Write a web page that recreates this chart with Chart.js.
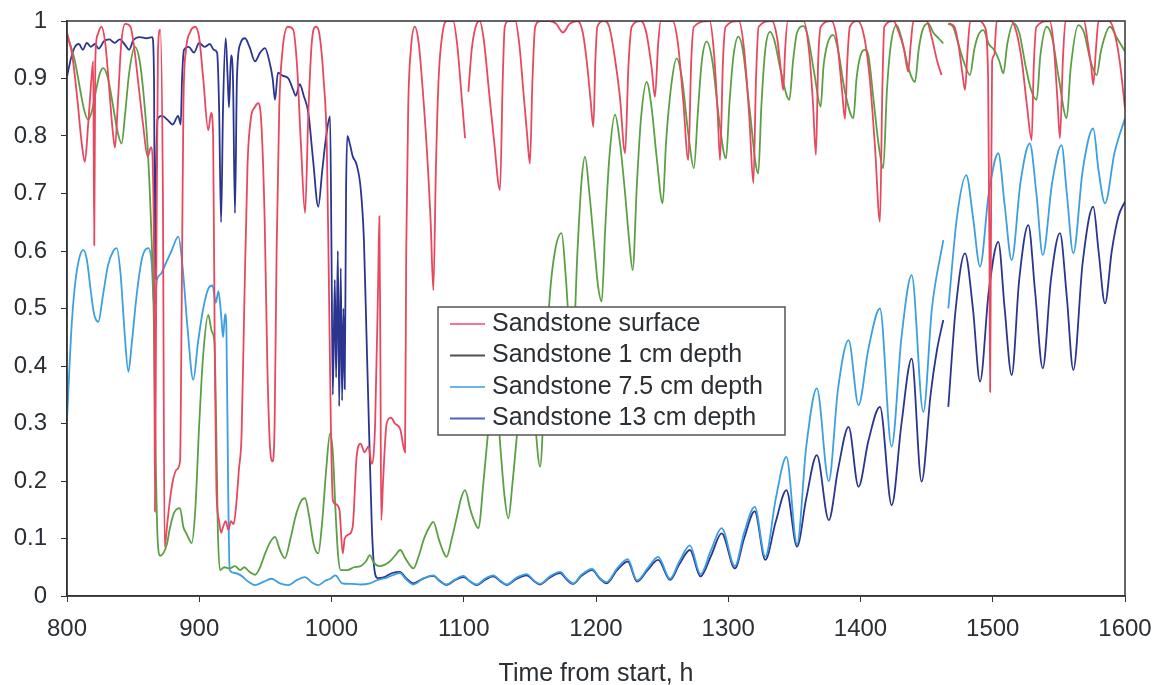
<!DOCTYPE html>
<html>
<head>
<meta charset="utf-8">
<title>Sandstone moisture</title>
<script src="https://cdn.jsdelivr.net/npm/chart.js@4/dist/chart.umd.min.js"></script>
<style>
  body { margin: 0; background: #fff; }
  #wrap { position: relative; width: 1163px; height: 685px; }
</style>
</head>
<body>
<div id="wrap"><canvas id="chart"></canvas></div>
<script>
// axis ticks
const xTicks = [800, 900, 1000, 1100, 1200, 1300, 1400, 1500, 1600];
const xTickLabels = ['800', '900', '1000', '1100', '1200', '1300', '1400', '1500', '1600'];
const yTicks = [0, 0.1, 0.2, 0.3, 0.4, 0.5, 0.6, 0.7, 0.8, 0.9, 1];
const yTickLabels = ['0', '0.1', '0.2', '0.3', '0.4', '0.5', '0.6', '0.7', '0.8', '0.9', '1'];

const seriesNames = ['Sandstone surface', 'Sandstone 1 cm depth', 'Sandstone 7.5 cm depth', 'Sandstone 13 cm depth'];

// [time h, value]; null = break in record
const surface = [
  [800,0.98],[804,0.94],[808,0.86],[811,0.79],[813.5,0.755],[816,0.82],[818.5,0.9],[819.8,0.93],[820.6,0.61],[821.4,0.93],
  [823,0.975],[826,0.99],[829,0.96],[832,0.88],[834.5,0.81],[836.3,0.78],[838.5,0.86],[841,0.96],[844,0.995],[848,0.99],
  [851,0.95],[854,0.89],[857.5,0.82],[861,0.764],[863.5,0.78],[865.8,0.6],[866.5,0.147],[867.5,0.55],[868.8,0.95],[870.5,0.985],
  [872.5,0.7],[873.8,0.086],[876,0.13],[878,0.17],[880,0.2],[883,0.22],[885.5,0.235],[886.7,0.5],[888,0.85],[890,0.95],
  [893,0.98],[897,0.99],[900,0.97],[903,0.9],[906.8,0.81],[909,0.84],[910.5,0.8],[911.8,0.4],[913,0.184],[915,0.13],
  [916.5,0.11],[918,0.12],[920,0.13],[922,0.115],[924,0.13],[926,0.125],[928,0.16],[930,0.22],[932,0.28],[934,0.5],
  [936.5,0.75],[939,0.83],[942,0.85],[944.5,0.857],[947,0.82],[949.5,0.65],[951.5,0.4],[953.5,0.26],[955.5,0.234],[957,0.3],
  [958.5,0.6],[960.5,0.85],[963,0.95],[967,0.99],[971,0.985],[974,0.92],[977,0.78],[980,0.666],[982.5,0.84],[985,0.96],
  [988,0.99],[991,0.975],[994,0.9],[996.5,0.78],[998,0.55],[999.5,0.3],[1001,0.167],[1003,0.16],[1006,0.15],[1008.5,0.074],
  [1010,0.1],[1013,0.107],[1016,0.12],[1019,0.242],[1022,0.265],[1025,0.25],[1028,0.26],[1030.4,0.23],[1033,0.3],[1035.3,0.55],
  [1036.2,0.66],[1037,0.4],[1037.6,0.132],[1039,0.2],[1041.7,0.3],[1045,0.31],[1048,0.3],[1052,0.29],[1055.6,0.25],[1056.5,0.6],
  [1058,0.85],[1060,0.95],[1063,0.99],[1066,0.96],[1069,0.88],[1072,0.78],[1075,0.65],[1077,0.532],[1079,0.75],[1081,0.9],
  [1084,0.98],[1087,1],[1092,1],[1095,0.96],[1098,0.88],[1101,0.796],[1102,null],[1103.5,0.877],[1106,0.95],[1109,0.99],
  [1112,1],[1115,0.97],[1119,0.88],[1123,0.79],[1127.4,0.706],[1129.5,0.9],[1131,0.99],[1134,1],[1139,1],[1142,0.96],
  [1145,0.88],[1148,0.8],[1150,0.752],[1152,0.9],[1154,0.99],[1158,1],[1165,1],[1170,0.995],[1175,0.98],[1180,0.995],
  [1186,1],[1190,0.98],[1193,0.93],[1196,0.86],[1198,0.816],[1199.5,0.93],[1201,0.99],[1206,1],[1210,0.99],[1214,0.94],
  [1218,0.87],[1222,0.77],[1224.5,0.92],[1227,0.99],[1234,1],[1238,0.98],[1242,0.92],[1244.6,0.868],[1247,0.96],[1249,1],
  [1258,1],[1262,0.96],[1266,0.86],[1269.8,0.758],[1272,0.93],[1274,0.99],[1286,1],[1289,0.95],[1292,0.84],[1293.8,0.758],
  [1296,0.93],[1298,0.99],[1308,1],[1312,0.95],[1316,0.83],[1319,0.718],[1321,0.9],[1323,0.99],[1333,1],[1337,0.97],
  [1340,0.91],[1341.6,0.88],[1343,0.95],[1345,1],[1357,1],[1361,0.95],[1364,0.86],[1366.3,0.767],[1368,0.93],[1370,0.99],
  [1378,1],[1382,0.97],[1386,0.88],[1388.3,0.83],[1390,0.93],[1392,0.99],[1398,1],[1403,0.97],[1407,0.9],[1411,0.78],
  [1414.7,0.651],[1416.5,0.88],[1418,0.99],[1425,1],[1429,0.98],[1433,0.95],[1436,0.912],[1438,0.96],[1440,1],[1450,1],
  [1454,0.97],[1458,0.93],[1461.3,0.906],[1464,null],[1466.4,0.996],[1471,0.99],[1474,0.96],[1477,0.91],[1479,0.88],[1481,0.95],
  [1483,1],[1490,1],[1494,0.99],[1496.5,0.9],[1497.5,0.6],[1498,0.355],[1498.6,0.6],[1499.5,0.93],[1501,0.94],[1503,1],
  [1514,1],[1518,0.98],[1522,0.93],[1526,0.85],[1529.4,0.793],[1531,0.92],[1533,0.99],[1543,1],[1546,0.96],[1549,0.86],
  [1550.8,0.796],[1553,0.93],[1555,1],[1569,1],[1572,0.96],[1574.5,0.92],[1576,0.889],[1578,0.95],[1580,1],[1588,1],
  [1592,0.98],[1596,0.93],[1600,0.848]
];

const depth1 = [
  [800,0.973],[803,0.955],[806,0.93],[810,0.88],[813,0.845],[816,0.828],[819,0.845],[822,0.88],[825,0.91],[827.5,0.918],
  [831,0.9],[835,0.85],[838,0.81],[841.3,0.787],[844,0.84],[847,0.91],[851.4,0.955],[855,0.93],[858,0.87],[861,0.78],
  [863.5,0.65],[865.5,0.5],[867,0.25],[868.5,0.1],[870.5,0.07],[873,0.075],[875.5,0.09],[878,0.12],[881,0.145],[885.4,0.153],
  [888,0.12],[890,0.11],[892,0.1],[894.3,0.092],[897,0.15],[900,0.3],[903,0.42],[906.8,0.489],[909.5,0.46],[911.5,0.44],
  [912.8,0.3],[914,0.12],[915.7,0.045],[919,0.05],[923,0.048],[927,0.052],[931,0.045],[934,0.05],[938,0.042],[942.2,0.037],
  [946,0.05],[950,0.075],[954,0.095],[957.3,0.103],[961,0.08],[964.8,0.066],[969,0.1],[973,0.14],[977,0.165],[980,0.17],
  [983,0.14],[986.5,0.09],[990,0.074],[993,0.13],[996,0.22],[998.9,0.283],[1001,0.25],[1003,0.15],[1005,0.07],[1007,0.045],
  [1012,0.045],[1017,0.05],[1022,0.052],[1026,0.06],[1029,0.071],[1032,0.058],[1036,0.052],[1040,0.054],[1044,0.06],[1048,0.07],
  [1052,0.08],[1056,0.065],[1062,0.048],[1066,0.07],[1070,0.1],[1074,0.12],[1077,0.129],[1081,0.1],[1084,0.08],[1087,0.068],
  [1091,0.1],[1095,0.14],[1098,0.17],[1101,0.184],[1105,0.15],[1108,0.13],[1111,0.118],[1115,0.2],[1119,0.3],[1122,0.36],
  [1125,0.34],[1128,0.25],[1131,0.17],[1133.7,0.135],[1137,0.2],[1141,0.3],[1145,0.4],[1148,0.43],[1151,0.38],[1154,0.3],
  [1157.7,0.225],[1161,0.35],[1165,0.52],[1169,0.6],[1174,0.631],[1177,0.56],[1180,0.46],[1182.5,0.43],[1186,0.6],[1189,0.72],
  [1191.7,0.764],[1195,0.7],[1199,0.6],[1201.5,0.54],[1204.3,0.512],[1207,0.64],[1210,0.76],[1214.4,0.837],[1218,0.79],[1222,0.7],
  [1225,0.62],[1227.7,0.567],[1231,0.72],[1234,0.83],[1238.3,0.894],[1242,0.85],[1246,0.76],[1250.4,0.683],[1253,0.79],[1257,0.89],
  [1261,0.935],[1265,0.9],[1270,0.8],[1274,0.744],[1277,0.84],[1280,0.93],[1283.7,0.964],[1288,0.93],[1293,0.83],[1298.3,0.761],
  [1301,0.86],[1304,0.94],[1307.6,0.973],[1311,0.95],[1316,0.85],[1322.7,0.735],[1325,0.85],[1328,0.95],[1331.6,0.981],[1335,0.965],
  [1340,0.91],[1346.2,0.863],[1349,0.93],[1352,0.98],[1356.8,0.991],[1360,0.975],[1365,0.91],[1369.9,0.851],[1372,0.92],[1375,0.96],
  [1379.4,0.976],[1383,0.95],[1388,0.88],[1394.6,0.831],[1397,0.9],[1400,0.94],[1403.4,0.95],[1406,0.94],[1410,0.86],[1414,0.78],
  [1417.2,0.744],[1420,0.88],[1423,0.96],[1427.4,0.993],[1431,0.97],[1436,0.92],[1441.2,0.894],[1444,0.95],[1447,0.985],[1451.3,0.996],
  [1455,0.98],[1459,0.97],[1462.6,0.961],[1464,null],[1466.4,0.995],[1470,0.99],[1474,0.96],[1478,0.93],[1482.8,0.906],[1486,0.95],
  [1489,0.975],[1492.9,0.984],[1497,0.96],[1501,0.95],[1505,0.93],[1508,0.909],[1511,0.96],[1515.6,0.996],[1520,0.98],[1525,0.92],
  [1529,0.88],[1533.2,0.863],[1536,0.94],[1540.8,0.99],[1545,0.97],[1550,0.9],[1555.9,0.831],[1559,0.92],[1564.7,0.993],[1569,0.98],
  [1574,0.93],[1578.6,0.906],[1582,0.95],[1588.7,0.99],[1594,0.97],[1600,0.947]
];

const depth75 = [
  [800,0.306],[801.5,0.38],[803.5,0.47],[806,0.54],[809,0.585],[812.3,0.602],[815,0.585],[818,0.53],[820.5,0.49],[823.7,0.477],
  [827,0.52],[831,0.575],[835,0.6],[837.6,0.605],[840.5,0.56],[843.5,0.46],[846.4,0.39],[849,0.44],[853,0.53],[857,0.59],
  [861.5,0.605],[864,0.58],[866,0.5],[868,0.55],[871,0.56],[875,0.58],[879,0.6],[884.2,0.625],[887.5,0.57],[891,0.47],
  [895.5,0.376],[899,0.44],[903,0.5],[907,0.535],[910,0.54],[912.5,0.51],[914.5,0.53],[916.5,0.49],[918,0.45],[919.5,0.49],
  [920.5,0.47],[921.8,0.2],[923,0.045],[927,0.04],[932,0.035],[937,0.025],[942.2,0.019],[948,0.024],[954.8,0.03],[961,0.022],
  [967.4,0.019],[974,0.028],[980,0.033],[985,0.024],[990,0.019],[995,0.026],[999,0.03],[1003,0.036],[1008,0.022],[1015,0.021],
  [1022,0.02],[1029,0.022],[1035,0.028],[1042,0.032],[1051.8,0.04],[1056,0.03],[1061.9,0.02],[1069,0.03],[1077,0.036],[1082,0.025],
  [1087,0.02],[1093,0.028],[1099.7,0.035],[1105,0.025],[1109.8,0.02],[1116,0.03],[1122.4,0.036],[1128,0.026],[1132.5,0.02],[1140,0.032],
  [1147.6,0.038],[1153,0.027],[1157.7,0.021],[1165,0.034],[1172.8,0.042],[1178,0.03],[1182.8,0.022],[1189,0.037],[1197,0.047],[1203,0.031],
  [1208,0.024],[1216,0.048],[1224,0.064],[1231,0.027],[1239,0.048],[1247,0.068],[1256,0.03],[1263,0.06],[1271,0.088],[1279,0.038],
  [1287,0.08],[1295,0.118],[1305,0.052],[1312,0.11],[1320,0.155],[1328,0.068],[1336,0.17],[1344,0.242],[1352,0.09],[1359,0.26],
  [1367,0.361],[1376,0.2],[1383,0.36],[1391,0.445],[1398.5,0.332],[1406,0.43],[1414.7,0.5],[1423.5,0.26],[1431,0.45],[1438.7,0.558],
  [1447.5,0.32],[1454,0.5],[1462.6,0.619],[1464,null],[1466.4,0.5],[1473,0.66],[1480,0.732],[1485,0.66],[1490.4,0.573],[1497,0.7],
  [1504.2,0.77],[1509,0.68],[1514.3,0.584],[1521,0.72],[1528,0.787],[1533,0.7],[1537.8,0.593],[1545,0.72],[1552,0.784],[1556,0.7],
  [1560.9,0.596],[1568,0.74],[1576,0.813],[1580,0.74],[1584.9,0.683],[1592,0.77],[1600,0.831]
];

const depth13 = [
  [800,0.903],[803,0.935],[806,0.955],[809,0.96],[812,0.95],[815,0.962],[818,0.955],[821,0.96],[824,0.952],[828,0.965],
  [832,0.968],[836,0.962],[840,0.968],[844,0.958],[847,0.95],[850,0.966],[855,0.972],[860,0.97],[864.5,0.972],[865.8,0.9],
  [866.5,0.55],[867.5,0.75],[868.5,0.83],[872,0.835],[876,0.828],[880,0.82],[884,0.835],[886,0.82],[887,0.9],[888.5,0.95],
  [892,0.955],[896,0.945],[900,0.962],[904,0.955],[908,0.96],[911,0.95],[913.5,0.945],[915,0.85],[916.5,0.65],[918,0.85],
  [920,0.97],[921.5,0.9],[922.5,0.85],[924,0.94],[925.5,0.9],[927,0.666],[928.5,0.9],[931,0.96],[934.6,0.97],[938,0.955],
  [942.2,0.93],[946,0.945],[949.7,0.953],[953,0.93],[955.5,0.9],[957.3,0.863],[959.5,0.91],[963,0.905],[967.4,0.9],[971,0.88],
  [973,0.87],[976,0.89],[979,0.87],[982.5,0.84],[986,0.76],[990,0.677],[993,0.74],[996,0.8],[998.9,0.834],[1000,0.6],
  [1001,0.35],[1002.5,0.55],[1003.5,0.38],[1004.8,0.6],[1005.8,0.33],[1007,0.57],[1008,0.34],[1009,0.5],[1010,0.36],[1011,0.7],
  [1012,0.8],[1014,0.785],[1016,0.765],[1019,0.75],[1022,0.71],[1024.5,0.62],[1026.5,0.45],[1028.5,0.28],[1030.5,0.12],[1032.5,0.045],
  [1035,0.031],[1040,0.033],[1046,0.04],[1051.8,0.042],[1056,0.032],[1061.9,0.022],[1069,0.03],[1077,0.035],[1082,0.026],[1087,0.019],
  [1093,0.027],[1099.7,0.033],[1105,0.025],[1109.8,0.019],[1116,0.028],[1122.4,0.034],[1128,0.025],[1132.5,0.019],[1140,0.03],[1147.6,0.036],
  [1153,0.026],[1157.7,0.02],[1165,0.032],[1172.8,0.04],[1178,0.028],[1182.8,0.021],[1189,0.035],[1197,0.045],[1203,0.03],[1208,0.022],
  [1216,0.045],[1224,0.06],[1231,0.025],[1239,0.045],[1247,0.063],[1256,0.028],[1263,0.055],[1271,0.08],[1279,0.034],[1287,0.07],
  [1295,0.109],[1305,0.048],[1312,0.1],[1320,0.147],[1328,0.063],[1336,0.13],[1344,0.184],[1352,0.086],[1359,0.17],[1367,0.245],
  [1376,0.132],[1383,0.22],[1391,0.294],[1398.5,0.19],[1406,0.27],[1414.7,0.329],[1423.6,0.158],[1431,0.3],[1438.7,0.413],[1446.2,0.199],
  [1453,0.35],[1458,0.43],[1462.6,0.48],[1464,null],[1466.4,0.329],[1472,0.5],[1479,0.596],[1485,0.5],[1490.4,0.373],[1497,0.53],
  [1504.2,0.616],[1509,0.5],[1514.3,0.384],[1520,0.55],[1526.9,0.645],[1532,0.53],[1537.8,0.396],[1544,0.55],[1550.8,0.631],[1556,0.52],
  [1560.9,0.393],[1568,0.58],[1576,0.677],[1580,0.6],[1584.9,0.509],[1590,0.6],[1595,0.66],[1600,0.686]
];

const lineColors = ['#e8485f', '#5b9f45', '#3d9fe0', '#2b3590'];
const legendColors = ['#f27a88', '#4a5258', '#6ab6ea', '#5060bc'];

const FONT = "'Liberation Sans', Arial, sans-serif";
const TEXT = '#2a2f34';

function toPoints(arr) {
  return arr.map(p => ({ x: p[0], y: p[1] }));
}

const boxLegend = {
  id: 'boxLegend',
  afterDraw(chart) {
    const ctx = chart.ctx;
    const a = chart.chartArea;
    ctx.save();
    // plot frame
    ctx.strokeStyle = '#333';
    ctx.lineWidth = 1.5;
    ctx.strokeRect(a.left, a.top, a.right - a.left, a.bottom - a.top);

    // legend box inside plot
    const bx = 438, by = 307, bw = 347, bh = 128;
    ctx.fillStyle = '#fff';
    ctx.fillRect(bx, by, bw, bh);
    ctx.strokeStyle = '#555';
    ctx.lineWidth = 1.5;
    ctx.strokeRect(bx, by, bw, bh);
    ctx.font = '25px ' + FONT;
    ctx.textBaseline = 'middle';
    ctx.fillStyle = TEXT;
    seriesNames.forEach((name, i) => {
      const y = by + 17 + i * 31.5;
      ctx.strokeStyle = legendColors[i];
      ctx.lineWidth = 2;
      ctx.beginPath();
      ctx.moveTo(450, y);
      ctx.lineTo(485, y);
      ctx.stroke();
      ctx.fillText(name, 492, y);
    });
    ctx.restore();
  }
};

const allSeries = [surface, depth1, depth75, depth13];

new Chart(document.getElementById('chart'), {
  type: 'line',
  data: {
    datasets: allSeries.map((s, i) => ({
      label: seriesNames[i],
      data: toPoints(s),
      borderColor: lineColors[i],
      borderWidth: 1.8,
      pointRadius: 0,
      cubicInterpolationMode: 'monotone',
      spanGaps: false
    }))
  },
  options: {
    responsive: true,
    maintainAspectRatio: false,
    animation: false,
    layout: { padding: { left: 0, top: 21, right: 38, bottom: 0 } },
    plugins: {
      legend: { display: false },
      tooltip: { enabled: false }
    },
    scales: {
      x: {
        type: 'linear',
        min: 800,
        max: 1600,
        afterBuildTicks: s => { s.ticks = xTicks.map(v => ({ value: v })); },
        afterFit: s => { s.height = 89; s.paddingLeft = 0; s.paddingRight = 0; },
        ticks: {
          font: { family: FONT, size: 24 },
          color: TEXT,
          padding: 13,
          maxRotation: 0,
          callback: (v, i) => xTickLabels[i]
        },
        grid: { drawOnChartArea: false, drawTicks: true, tickLength: 6, color: '#333' },
        border: { color: '#333', width: 1.5 },
        title: {
          display: true,
          text: 'Time from start, h',
          font: { family: FONT, size: 25 },
          color: TEXT,
          padding: { top: 0, bottom: -4 }
        }
      },
      y: {
        min: 0,
        max: 1,
        afterBuildTicks: s => { s.ticks = yTicks.map(v => ({ value: v })); },
        afterFit: s => { s.width = 67; s.paddingTop = 0; s.paddingBottom = 0; },
        ticks: {
          font: { family: FONT, size: 24 },
          color: TEXT,
          padding: 14,
          callback: (v, i) => yTickLabels[i]
        },
        grid: { drawOnChartArea: false, drawTicks: true, tickLength: 6, color: '#333' },
        border: { color: '#333', width: 1.5 }
      }
    }
  },
  plugins: [boxLegend]
});
</script>
</body>
</html>
